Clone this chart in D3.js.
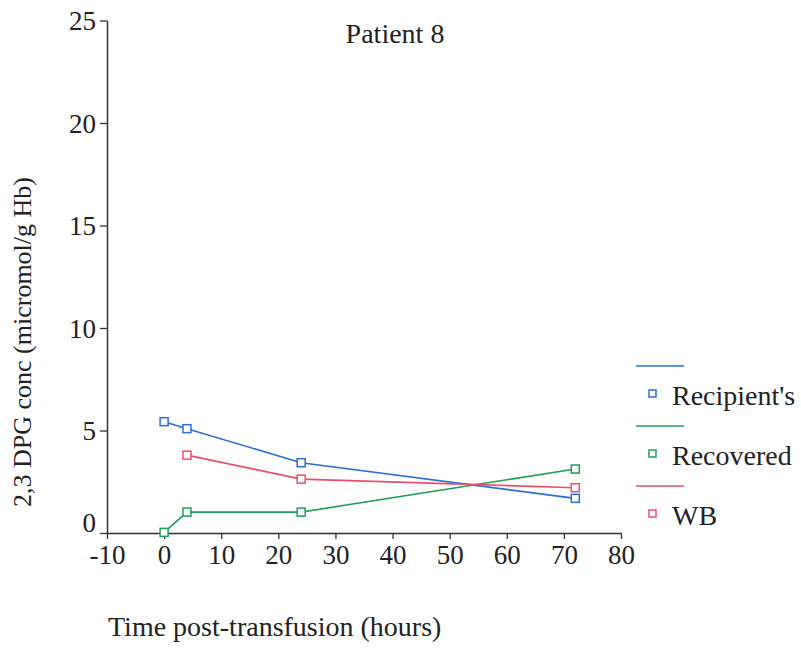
<!DOCTYPE html>
<html>
<head>
<meta charset="utf-8">
<script src="https://cdn.jsdelivr.net/npm/d3@7"></script>
<style>
  body { margin: 0; background: #fff; }
  text { font-family: "Liberation Serif", "DejaVu Serif", serif; fill: #222; }
</style>
</head>
<body>
<div id="chart"></div>
<script>
// data
const hours = [0, 4, 24, 72];
const recipients = [5.43, 5.09, 3.43, 1.69];
const recovered = [0.03, 1.02, 1.02, 3.12];
const wbHours = [4, 24, 72];
const wb = [3.8, 2.63, 2.21];
const xTicks = [-10, 0, 10, 20, 30, 40, 50, 60, 70, 80];
const yTicks = [0, 5, 10, 15, 20, 25];

const seriesNames = ["Recipient's", "Recovered", "WB"];
const seriesColors = ['#2c6fd2', '#1f9e5c', '#e9506c'];

const width = 801, height = 648;

let svg = d3.select('#chart').append('svg')
    .attr('width', width)
    .attr('height', height);

let x = d3.scaleLinear().domain([-10, 80]).range([107, 621]);
let y = d3.scaleLinear().domain([0, 25]).range([533, 20.5]);

// axes
let xAxis = svg.append('g')
    .attr('transform', 'translate(0,533)')
    .call(d3.axisBottom(x).tickValues(xTicks).tickFormat(d => String(d))
        .tickSize(6).tickSizeOuter(0).tickPadding(6));
let yAxis = svg.append('g')
    .attr('transform', 'translate(107,0)')
    .call(d3.axisLeft(y).tickValues(yTicks).tickFormat(d => String(d))
        .tickSize(7).tickSizeOuter(0).tickPadding(4));

[xAxis, yAxis].forEach(a => {
    a.select('.domain').attr('stroke', '#333').attr('stroke-width', 1.5);
    a.selectAll('.tick line').attr('stroke', '#333').attr('stroke-width', 1.3);
    a.selectAll('.tick text')
        .style('font-family', '"Liberation Serif", serif')
        .style('font-size', '27px')
        .attr('fill', '#222');
});
// the 0 label sits a little above the x axis in the original
yAxis.selectAll('.tick text').attr('dy', d => d === 0 ? '-0.05em' : '0.35em');

// lines + markers
let series = [
    { name: seriesNames[0], xs: hours, ys: recipients, color: seriesColors[0] },
    { name: seriesNames[1], xs: hours, ys: recovered, color: seriesColors[1] },
    { name: seriesNames[2], xs: wbHours, ys: wb, color: seriesColors[2] }
];

let line = d3.line().x(d => x(d[0])).y(d => y(d[1]));

series.forEach(s => {
    let pts = s.xs.map((v, i) => [v, s.ys[i]]);
    svg.append('path')
        .datum(pts)
        .attr('d', line)
        .attr('fill', 'none')
        .attr('stroke', s.color)
        .attr('stroke-width', 1.6);
    svg.selectAll(null)
        .data(pts)
        .enter()
        .append('rect')
        .attr('x', d => x(d[0]) - 4)
        .attr('y', d => y(d[1]) - 4)
        .attr('width', 8)
        .attr('height', 8)
        .attr('fill', '#fff')
        .attr('stroke', s.color)
        .attr('stroke-width', 1.5);
});

// title
svg.append('text')
    .attr('x', 395)
    .attr('y', 43)
    .attr('text-anchor', 'middle')
    .style('font-size', '28px')
    .text('Patient 8');

// axis labels
svg.append('text')
    .attr('transform', 'translate(31,342) rotate(-90)')
    .attr('text-anchor', 'middle')
    .style('font-size', '26px')
    .text('2,3 DPG conc (micromol/g Hb)');

svg.append('text')
    .attr('x', 108)
    .attr('y', 636)
    .style('font-size', '28px')
    .text('Time post-transfusion (hours)');

// legend
let legend = svg.selectAll('.legend')
    .data(series)
    .enter()
    .append('g')
    .attr('class', 'legend')
    .attr('transform', (d, i) => 'translate(0,' + (366 + i * 60) + ')');

legend.append('line')
    .attr('x1', 636).attr('x2', 684)
    .attr('y1', 0).attr('y2', 0)
    .attr('stroke', d => d.color)
    .attr('stroke-width', 1.6);
legend.append('rect')
    .attr('x', 649).attr('y', 24)
    .attr('width', 7).attr('height', 7)
    .attr('fill', '#fff')
    .attr('stroke', d => d.color)
    .attr('stroke-width', 1.5);
legend.append('text')
    .attr('x', 672)
    .attr('y', 39)
    .style('font-size', '28px')
    .text(d => d.name);
</script>
</body>
</html>
